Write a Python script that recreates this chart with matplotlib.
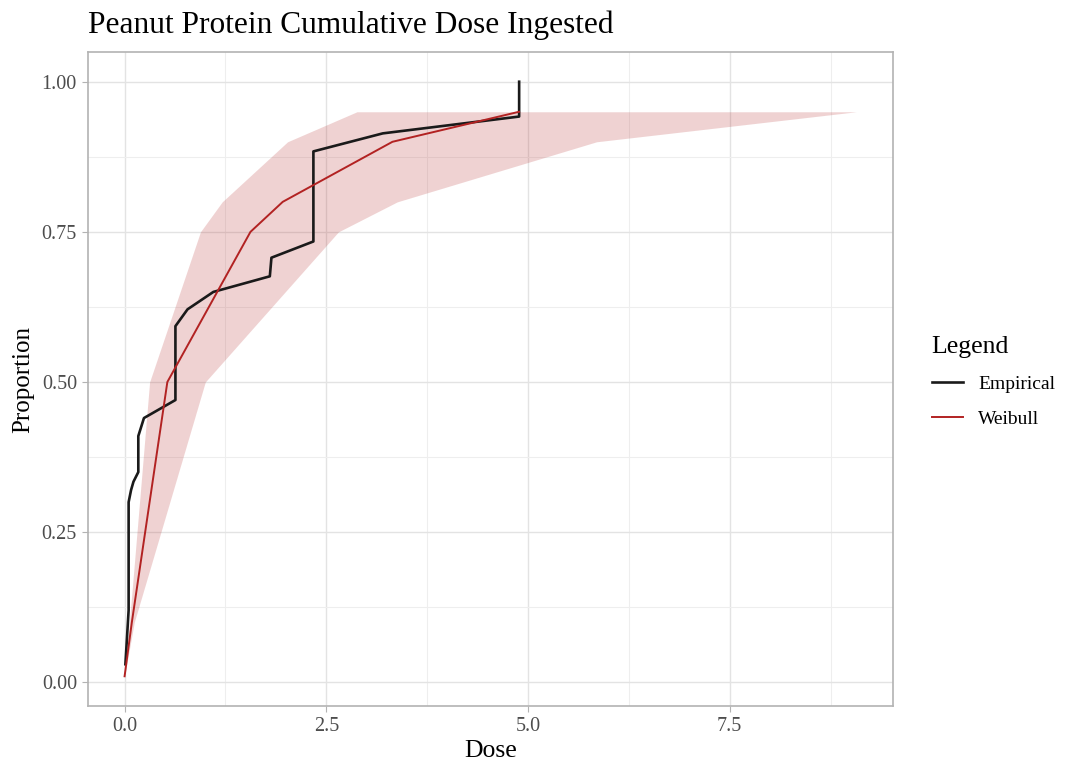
import matplotlib

matplotlib.use("Agg")
import matplotlib.pyplot as plt
from matplotlib.ticker import FixedLocator

plt.rcParams["font.family"] = ["Liberation Serif", "DejaVu Serif"]

# Empirical cumulative dose curve
emp_dose = [0.01, 0.05, 0.05, 0.08, 0.11, 0.17, 0.17, 0.24, 0.63, 0.63,
            0.78, 1.10, 1.80, 1.82, 2.34, 2.34, 3.20, 4.89, 4.89]
emp_prop = [0.03, 0.12, 0.30, 0.32, 0.334, 0.35, 0.41, 0.44, 0.47, 0.593,
            0.621, 0.65, 0.676, 0.707, 0.734, 0.884, 0.914, 0.942, 1.00]

# Weibull fit and its confidence band (dose at each proportion)
wb_prop = [0.01, 0.10, 0.50, 0.75, 0.80, 0.90, 0.95]
wb_dose = [0.00, 0.09, 0.53, 1.56, 1.96, 3.32, 4.89]
wb_lower = [0.00, 0.06, 0.31, 0.94, 1.21, 2.02, 2.88]
wb_upper = [0.00, 0.12, 1.00, 2.65, 3.38, 5.85, 9.07]

x_ticks = [0.0, 2.5, 5.0, 7.5]
x_minor = [1.25, 3.75, 6.25, 8.75]
y_ticks = [0.00, 0.25, 0.50, 0.75, 1.00]
y_minor = [0.125, 0.375, 0.625, 0.875]

RED = "#B22222"
GRID = "#E3E3E3"
GRID_MINOR = "#EEEEEE"
BORDER = "#B3B3B3"
TICKTXT = "#4D4D4D"

fig = plt.figure(figsize=(10.67, 7.65), dpi=100)
ax = fig.add_axes([88 / 1067, 1 - 706 / 765, (893 - 88) / 1067, (706 - 52) / 765])

ax.fill_betweenx(wb_prop, wb_lower, wb_upper, color=RED, alpha=0.2, lw=0, zorder=2)
ax.plot(emp_dose, emp_prop, color="#1a1a1a", lw=1.9, label="Empirical", zorder=3,
        solid_joinstyle="round")
ax.plot(wb_dose, wb_prop, color=RED, lw=1.4, label="Weibull", zorder=4)

# ggplot-style 5% expansion
xlo, xhi = 0.0, 9.07
ylo, yhi = 0.01, 1.0
ax.set_xlim(xlo - 0.05 * (xhi - xlo), xhi + 0.05 * (xhi - xlo))
ax.set_ylim(ylo - 0.05 * (yhi - ylo), yhi + 0.05 * (yhi - ylo))

ax.xaxis.set_major_locator(FixedLocator(x_ticks))
ax.xaxis.set_minor_locator(FixedLocator(x_minor))
ax.yaxis.set_major_locator(FixedLocator(y_ticks))
ax.yaxis.set_minor_locator(FixedLocator(y_minor))
ax.set_xticklabels([f"{v:.1f}" for v in x_ticks])
ax.set_yticklabels([f"{v:.2f}" for v in y_ticks])

ax.grid(which="major", color=GRID, lw=1.0, zorder=0)
ax.grid(which="minor", color=GRID_MINOR, lw=0.8, zorder=0)
ax.set_axisbelow(True)
for s in ax.spines.values():
    s.set_color(BORDER)
    s.set_linewidth(1.2)
ax.tick_params(which="major", length=4, width=0.8, color=BORDER,
               labelsize=14.5, labelcolor=TICKTXT, pad=4)
ax.tick_params(which="minor", length=0)

ax.set_xlabel("Dose", fontsize=18.5, labelpad=3)
ax.set_ylabel("Proportion", fontsize=18, labelpad=5)
fig.text(88 / 1067, 1 - 25 / 765, "Peanut Protein Cumulative Dose Ingested",
         fontsize=22.6, va="center", ha="left")

leg = fig.legend(loc="upper left", bbox_to_anchor=(914 / 1067, 1 - 318 / 765),
                 frameon=False, title="Legend", title_fontsize=18.5, fontsize=14,
                 alignment="left", handlelength=1.6, labelspacing=0.9,
                 handletextpad=0.8)

fig.savefig("out.png", dpi=100)
